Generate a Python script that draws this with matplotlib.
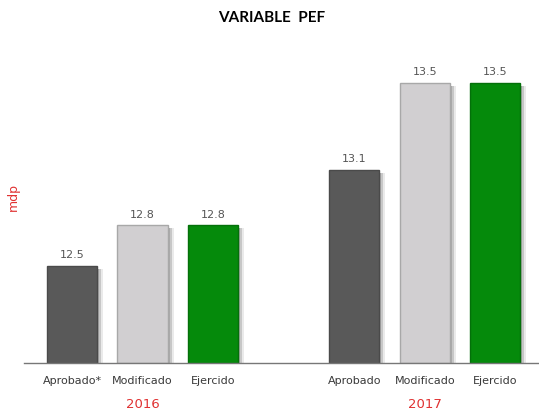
import matplotlib.pyplot as plt
import matplotlib.transforms as mtransforms

years = ["2016", "2017"]
labels_2016 = ["Aprobado*", "Modificado", "Ejercido"]
labels_2017 = ["Aprobado", "Modificado", "Ejercido"]
values_2016 = [12.54, 12.76, 12.76]
values_2017 = [13.06, 13.53, 13.53]

colors = ["#595959", "#d1cfd1", "#058a0b"]
edges = ["#4a4a4a", "#a8a8a8", "#04700a"]

fig = plt.figure(figsize=(5.39, 4.13), dpi=100)
ax = fig.add_axes([24 / 539, 50 / 413, 515 / 539, 323 / 413])

pos = [0, 1, 2, 4, 5, 6]
vals = values_2016 + values_2017
cols = colors * 2
ecs = edges * 2
bottom = 12.015
heights = [v - bottom for v in vals]

# soft shadow: a few offset layers to the right
for dx, a in [(2, 0.35), (4, 0.3), (6, 0.15)]:
    shadow = mtransforms.offset_copy(ax.transData, fig=fig, x=dx, y=-3, units="dots")
    ax.bar(pos, heights, bottom=bottom, width=0.71,
           color="#777777", alpha=a, linewidth=0, transform=shadow, zorder=1)
ax.bar(pos, heights, bottom=bottom, width=0.71,
       color=cols, edgecolor=ecs, linewidth=1, zorder=2)

for p, v in zip(pos, vals):
    ax.annotate(f"{v:.1f}", (p, v), xytext=(0, 4), textcoords="offset points",
                ha="center", va="bottom", fontsize=8, color="#555555")

ax.set_xlim(-0.68, 6.62)
ax.set_ylim(bottom, bottom + 323 / 185)
ax.set_xticks(pos)
ax.set_xticklabels(labels_2016 + labels_2017, fontsize=8, color="#3a3a3a")
ax.tick_params(axis="x", length=0, pad=9)
ax.set_yticks([])
for s in ["top", "right", "left"]:
    ax.spines[s].set_visible(False)
ax.spines["bottom"].set_color("#777777")
ax.spines["bottom"].set_linewidth(1)
ax.spines["bottom"].set_zorder(3)

for x, yr in zip([1, 5], years):
    ax.text(x, -0.13, yr, transform=ax.get_xaxis_transform(), ha="center",
            va="center", fontsize=9.5, color="#e03131")

fig.text(13 / 539, 1 - 197 / 413, "mdp", rotation=90, ha="center", va="center",
         fontsize=9, color="#e03131")
fig.text(272 / 539, 1 - 18 / 413, "VARIABLE  PEF", ha="center", va="center",
         fontsize=11, fontweight="bold", family="Lato")

fig.savefig("out.png", dpi=100)
